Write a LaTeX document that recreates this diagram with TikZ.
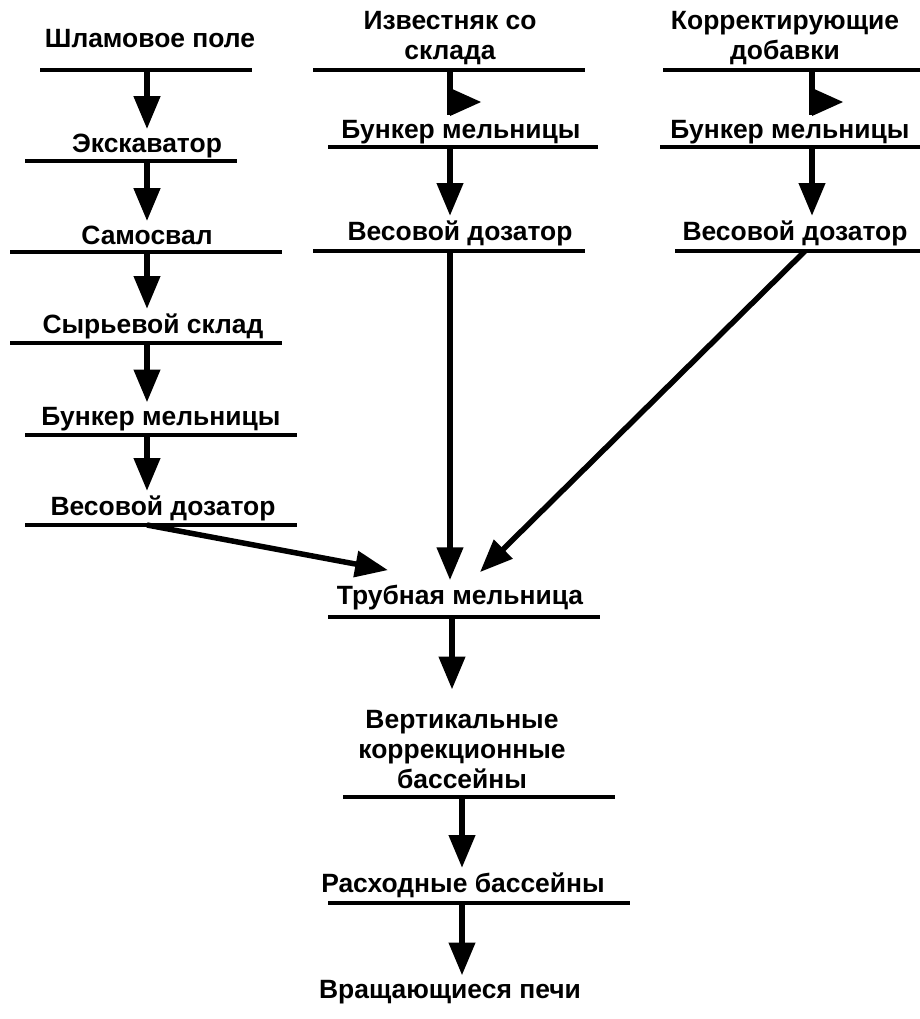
\documentclass[tikz,border=0pt]{standalone}
\usepackage{fontspec}
\setmainfont{Liberation Sans}
\usepackage{tikz}
\usetikzlibrary{arrows.meta}
\tikzstyle{stage} = [font=\bfseries\fontsize{18.8}{21.3}\selectfont, align=center, anchor=base, inner xsep=0pt, inner ysep=3pt]
\tikzstyle{shelf} = [draw, line width=2.8pt]
\tikzstyle{connector} = [draw, line width=3.9pt, -{Triangle[length=0.82cm, width=0.64cm]}]
\tikzstyle{stem} = [draw, line width=3.9pt]

\begin{document}
\begin{tikzpicture}[x=0.025cm, y=-0.025cm]
\useasboundingbox (0,0) rectangle (920,1019);

% sludge line
\node [stage] at (150,47) (sludge) {Шламовое поле};
\node [stage] at (147,152) (excavator) {Экскаватор};
\node [stage] at (147,244) (truck) {Самосвал};
\node [stage] at (153,333) (store) {Сырьевой склад};
\node [stage] at (161,425) (hopper1) {Бункер мельницы};
\node [stage] at (163,515) (doser1) {Весовой дозатор};

% limestone line (base = last line)
\node [stage] at (450,59) (lime) {Известняк со\\склада};
\node [stage] at (461,138) (hopper2) {Бункер мельницы};
\node [stage] at (460,240) (doser2) {Весовой дозатор};

% additives line
\node [stage] at (785,59) (additive) {Корректирующие\\добавки};
\node [stage] at (790,138) (hopper3) {Бункер мельницы};
\node [stage] at (795,240) (doser3) {Весовой дозатор};

% mill and after
\node [stage] at (460,604) (mill) {Трубная мельница};
\node [stage] at (462,788) (pools) {Вертикальные\\коррекционные\\бассейны};
\node [stage] at (463,892) (supply) {Расходные бассейны};
\node [stage] at (450,998) (kilns) {Вращающиеся печи};

% shelves
\draw [shelf] (40,70) -- (252,70);
\draw [shelf] (25,161) -- (237,161);
\draw [shelf] (10,252) -- (282,252);
\draw [shelf] (10,343) -- (282,343);
\draw [shelf] (25,435) -- (297,435);
\draw [shelf] (25,525) -- (297,525);
\draw [shelf] (313,70) -- (585,70);
\draw [shelf] (328,147) -- (598,147);
\draw [shelf] (313,251) -- (585,251);
\draw [shelf] (663,70) -- (920,70);
\draw [shelf] (660,147) -- (920,147);
\draw [shelf] (675,251) -- (920,251);
\draw [shelf] (328,617) -- (600,617);
\draw [shelf] (343,797) -- (615,797);
\draw [shelf] (328,903) -- (630,903);

\coordinate (s1) at (147,70);
\coordinate (s2) at (147,161);
\coordinate (s3) at (147,252);
\coordinate (s4) at (147,343);
\coordinate (s5) at (147,435);
\coordinate (s6) at (147,525);
\coordinate (l1) at (450,70);
\coordinate (l2) at (450,147);
\coordinate (l3) at (450,251);
\coordinate (a1) at (812,70);
\coordinate (a2) at (812,147);
\coordinate (a3) at (805,251);
\coordinate (m1) at (452,617);
\coordinate (p1) at (462,797);
\coordinate (r1) at (462,903);

\path [connector] (s1) -- (s1 |- excavator.north);
\path [connector] (s2) -- (s2 |- truck.north);
\path [connector] (s3) -- (s3 |- store.north);
\path [connector] (s4) -- (s4 |- hopper1.north);
\path [connector] (s5) -- (s5 |- doser1.north);
\path [connector] (s6) -- ([xshift=-1.8cm, yshift=0.25cm]mill.north);

\path [stem] (l1) -- (l1 |- hopper2.north);
\fill ([yshift=-0.45cm]l1) -- ++(31,14) -- ++(-31,14) -- cycle;
\path [connector] (l2) -- (l2 |- doser2.north);
\path [connector] (l3) -- (l3 |- mill.north);

\path [stem] (a1) -- (a1 |- hopper3.north);
\fill ([yshift=-0.45cm]a1) -- ++(31,14) -- ++(-31,14) -- cycle;
\path [connector] (a2) -- (a2 |- doser3.north);
\path [connector] (a3) -- ([xshift=0.5cm, yshift=0.2cm]mill.north);

\path [connector] (m1) -- ([yshift=0.4cm]m1 |- pools.north);
\path [connector] (p1) -- (p1 |- supply.north);
\path [connector] (r1) -- (r1 |- kilns.north);

\end{tikzpicture}
\end{document}
